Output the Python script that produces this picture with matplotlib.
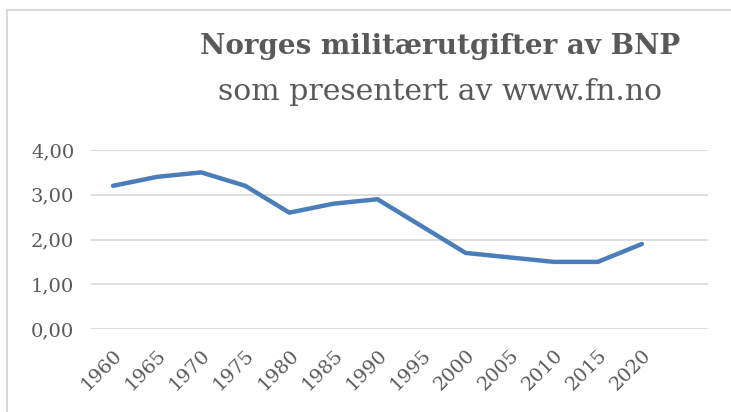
import matplotlib
matplotlib.use('Agg')
import matplotlib.pyplot as plt
from matplotlib.lines import Line2D

years = ['1960', '1965', '1970', '1975', '1980', '1985', '1990',
         '1995', '2000', '2005', '2010', '2015', '2020']
andel_bnp = [3.2, 3.4, 3.5, 3.2, 2.6, 2.8, 2.9, 2.3, 1.7, 1.6, 1.5, 1.5, 1.9]
y_ticks = [0, 1, 2, 3, 4]

grey = '#595959'
plt.rcParams['font.family'] = ['DejaVu Serif']

fig = plt.figure(figsize=(7.31, 4.12), dpi=100)
fig.patch.set_facecolor('#FFFFFF')

# chart frame: only the top and left edges are visible
fx = 6.5 / 731
fy = 1 - 9.5 / 412
fig.lines.append(Line2D([fx, fx], [0, fy], transform=fig.transFigure,
                        color='#D9D9D9', linewidth=1.5))
fig.lines.append(Line2D([fx, 1], [fy, fy], transform=fig.transFigure,
                        color='#D9D9D9', linewidth=1.5))

ax = fig.add_axes([91 / 731, 1 - 329 / 412, (708 - 91) / 731, (329 - 150) / 412])
x = list(range(len(years)))
ax.plot(x, andel_bnp, color='#4A7EBB', linewidth=3.2, solid_capstyle='round')

ax.set_xlim(-0.5, len(years) + 0.5)
ax.set_ylim(0, 4)
ax.set_yticks(y_ticks)
ax.set_yticklabels([('%.2f' % v).replace('.', ',') for v in y_ticks],
                   fontsize=14, color=grey)
ax.set_xticks(x)
ax.set_xticklabels(years, rotation=45, ha='right', va='top',
                   rotation_mode='anchor', fontsize=14, color=grey)
ax.tick_params(axis='both', length=0)
ax.tick_params(axis='y', pad=12)
ax.tick_params(axis='x', pad=12)
ax.grid(axis='y', color='#D9D9D9', linewidth=1.2)
ax.set_axisbelow(True)
for s in ax.spines.values():
    s.set_visible(False)

fig.text(440 / 731, 1 - 47 / 412, 'Norges militærutgifter av BNP', ha='center',
         va='center', fontsize=20, fontweight='bold', color=grey)
fig.text(440 / 731, 1 - 92 / 412, 'som presentert av www.fn.no', ha='center',
         va='center', fontsize=21.5, color=grey)

fig.savefig('out.png', dpi=100)
